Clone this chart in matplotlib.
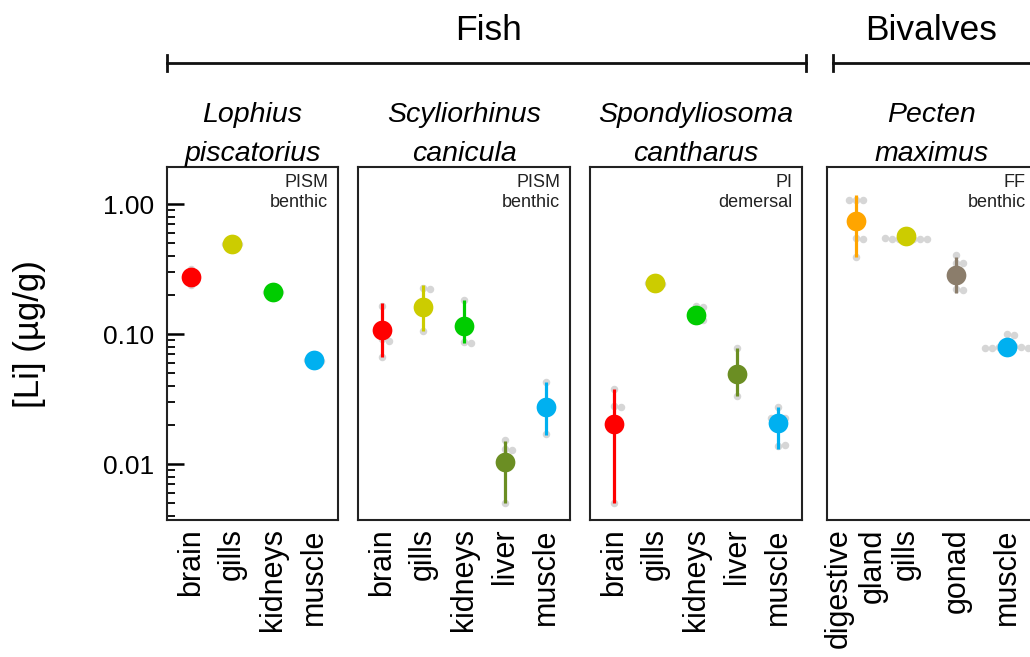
import numpy as np
import matplotlib
matplotlib.use("Agg")
import matplotlib.pyplot as plt
from matplotlib.lines import Line2D
from matplotlib.ticker import LogLocator, NullFormatter, FixedFormatter, FixedLocator

plt.rcParams['font.family'] = ['Liberation Sans', 'DejaVu Sans']

# ---- data ----
species = ["Lophius\npiscatorius", "Scyliorhinus\ncanicula",
           "Spondyliosoma\ncantharus", "Pecten\nmaximus"]
habitat = ["PISM\nbenthic", "PISM\nbenthic", "PI\ndemersal", "FF\nbenthic"]

organs_lophius = ["brain", "gills", "kidneys", "muscle"]
mean_lophius = [0.275, 0.495, 0.212, 0.063]
low_lophius = [0.25, 0.48, 0.205, 0.061]
high_lophius = [0.31, 0.51, 0.22, 0.065]
reps_lophius = [[0.315, 0.275, 0.238], [0.50, 0.49, 0.495],
                [0.215, 0.21, 0.212], [0.064, 0.062, 0.063]]

organs_scylio = ["brain", "gills", "kidneys", "liver", "muscle"]
mean_scylio = [0.108, 0.163, 0.115, 0.0105, 0.0278]
low_scylio = [0.0674, 0.105, 0.0855, 0.00504, 0.0169]
high_scylio = [0.175, 0.239, 0.184, 0.0150, 0.0426]
reps_scylio = [[0.165, 0.092, 0.089, 0.067, 0.11],
               [0.226, 0.224, 0.16, 0.105],
               [0.184, 0.115, 0.087, 0.085],
               [0.0155, 0.0130, 0.0128, 0.005],
               [0.043, 0.028, 0.017]]

organs_spondy = ["brain", "gills", "kidneys", "liver", "muscle"]
mean_spondy = [0.0204, 0.247, 0.141, 0.0497, 0.0208]
low_spondy = [0.00504, 0.240, 0.128, 0.0336, 0.0131]
high_spondy = [0.0379, 0.255, 0.160, 0.0782, 0.0278]
reps_spondy = [[0.0379, 0.0282, 0.0278, 0.005],
               [0.247, 0.245, 0.249],
               [0.165, 0.163, 0.135, 0.128],
               [0.0782, 0.05, 0.0336],
               [0.0278, 0.0228, 0.0226, 0.0225, 0.0139, 0.0141]]

organs_pecten = ["digestive\ngland", "gills", "gonad", "muscle"]
mean_pecten = [0.747, 0.570, 0.286, 0.0804]
low_pecten = [0.395, 0.55, 0.209, 0.078]
high_pecten = [1.177, 0.59, 0.395, 0.09]
reps_pecten = [[1.08, 1.075, 1.085, 0.545, 0.54, 0.395],
               [0.545, 0.543, 0.54, 0.542, 0.544, 0.541, 0.546],
               [0.407, 0.352, 0.35, 0.222, 0.22],
               [0.100, 0.099, 0.081, 0.0805, 0.080, 0.0795, 0.079, 0.0785, 0.078]]

organ_colors = {"brain": "#FF0000", "gills": "#CCCC00", "kidneys": "#00CC00",
                "liver": "#6B8E23", "muscle": "#00B0F0",
                "digestive\ngland": "#FFA500", "gonad": "#8B7D6B"}

panels = [
    (organs_lophius, mean_lophius, low_lophius, high_lophius, reps_lophius),
    (organs_scylio, mean_scylio, low_scylio, high_scylio, reps_scylio),
    (organs_spondy, mean_spondy, low_spondy, high_spondy, reps_spondy),
    (organs_pecten, mean_pecten, low_pecten, high_pecten, reps_pecten),
]

# ---- layout (pixels of a 1030x657 canvas) ----
W, H = 1030, 657
fig = plt.figure(figsize=(W / 100, H / 100), dpi=100)
panel_left = [167, 358, 590, 826.7]
panel_width = [171, 212, 212, 209]
top_px, bot_px = 167, 520
ylim = (0.00373, 1.93)

dot_ms = 5.4
dot_d = dot_ms * 100 / 72 * 0.95


def swarm(ax, x0, vals, d):
    # simple beeswarm in display coords
    pts = ax.transData.transform([(x0, v) for v in vals])
    placed = []
    out = []
    cands = [0] + [s * i * d for i in range(1, 20) for s in (1, -1)]
    for px, py in pts:
        for c in cands:
            if all((c - ox) ** 2 + (py - oy) ** 2 >= (d * 0.98) ** 2 for ox, oy in placed):
                break
        placed.append((c, py))
        out.append(ax.transData.inverted().transform((px + c, py)))
    return np.array(out)


for i, (organs, means, lows, highs, reps) in enumerate(panels):
    ax = fig.add_axes([panel_left[i] / W, (H - bot_px) / H,
                       panel_width[i] / W, (bot_px - top_px) / H])
    n = len(organs)
    ax.set_yscale('log')
    ax.set_ylim(*ylim)
    ax.set_xlim(-0.58, n - 0.42)
    for sp in ax.spines.values():
        sp.set_linewidth(1.5)
        sp.set_color('#222222')

    x = np.arange(n)
    for j in range(n):
        pts = swarm(ax, x[j], reps[j], dot_d)
        ax.plot(pts[:, 0], pts[:, 1], 'o', ms=dot_ms, color='#D6D6D6',
                mec='none', zorder=2)
        c = organ_colors[organs[j]]
        ax.vlines(x[j], lows[j], highs[j], color=c, lw=2.3, zorder=3)
        ax.plot(x[j], means[j], 'o', ms=14.2, color=c, mec='none', zorder=4)

    ax.set_xticks(x)
    ax.set_xticklabels(organs, rotation=90, fontsize=22, ha='center', va='top',
                       multialignment='right')
    ax.tick_params(axis='x', length=0, pad=6)

    if i == 0:
        ax.yaxis.set_major_locator(FixedLocator([0.01, 0.1, 1.0]))
        ax.yaxis.set_major_formatter(FixedFormatter(["0.01", "0.10", "1.00"]))
        ax.yaxis.set_minor_locator(LogLocator(base=10, subs=np.arange(2, 10)))
        ax.yaxis.set_minor_formatter(NullFormatter())
        ax.tick_params(axis='y', which='major', direction='in', length=12,
                       width=1.8, labelsize=19, pad=9)
        ax.tick_params(axis='y', which='minor', direction='in', length=6, width=1.3)
    else:
        ax.tick_params(axis='y', which='both', left=False, labelleft=False)

    ax.set_title(species[i], style='italic', fontsize=20.5, pad=1, linespacing=1.65)
    ax.annotate(habitat[i], xy=(1, 1), xycoords='axes fraction',
                xytext=(-7, -5), textcoords='offset points',
                ha='right', va='top', fontsize=13, multialignment='right',
                color='#222222')

# y label
fig.text(30 / W, 1 - 334 / H, "[Li] (µg/g)", rotation=90, fontsize=25,
         ha='center', va='center')


# group brackets
def bracket(x0, x1, y, label, lx):
    yf = 1 - y / H
    fig.add_artist(Line2D([x0 / W, x1 / W], [yf, yf], color='#111111', lw=2.0,
                          transform=fig.transFigure))
    for xx in (x0, x1):
        fig.add_artist(Line2D([xx / W, xx / W], [yf - 8 / H, yf + 8 / H],
                              color='#111111', lw=2.0, transform=fig.transFigure))
    fig.text(lx / W, 1 - 40 / H, label, fontsize=25.5, ha='center', va='baseline')


bracket(167, 806, 63, "Fish", 488)
bracket(833, 1045, 63, "Bivalves", 931)

fig.savefig("out.png", dpi=100)
